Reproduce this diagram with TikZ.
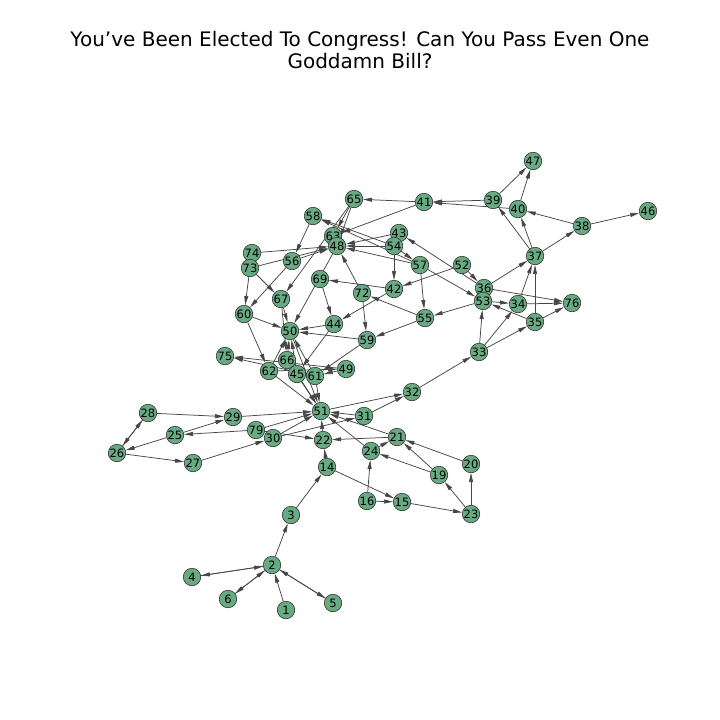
\documentclass[tikz,border=0pt]{standalone}
\usepackage{fontspec}
\setmainfont{DejaVu Sans}
\usetikzlibrary{arrows.meta}
\pgfdeclarelayer{bg}
\pgfsetlayers{bg,main}
\definecolor{nodegreen}{RGB}{104,170,130}
\definecolor{edgegray}{RGB}{70,70,70}
\tikzset{
  vtx/.style={circle,draw=black!80,line width=0.6pt,fill=nodegreen,minimum size=17.5pt,inner sep=0pt,font=\fontsize{11.5}{12}\selectfont},
  edg/.style={draw=edgegray,line width=0.75pt,-{Triangle[length=9pt,width=4pt]}},
  ttl/.style={font=\fontsize{20}{21.5}\selectfont,align=center}
}
\begin{document}
\begin{tikzpicture}[x=1pt,y=-1pt]
\useasboundingbox (0,0) rectangle (720,720);
\node[ttl] (title) at (360,50) {You’ve Been Elected To Congress! Can You Pass Even One\\Goddamn Bill?};
\foreach \n/\x/\y in {
47/533/161, 46/648/211, 39/493/200, 40/518/209, 41/424/202, 65/354/199,
38/582/226, 58/313/216, 63/333/236, 48/337/246, 43/399/233, 54/394/246,
74/252/253, 73/250/268, 56/292/261, 37/535/256, 57/420/265, 52/462/265,
69/320/279, 72/362/293, 42/394/289, 36/484/288, 53/483/301, 67/281/299,
34/518/304, 76/572/303, 60/244/314, 35/535/322, 55/425/318, 44/334/324,
50/290/331, 59/367/340, 33/479/352, 75/225/356, 66/287/360, 49/346/369,
62/269/371, 45/297/374, 61/315/376, 32/412/392, 28/148/413, 51/321/411,
29/233/417, 31/364/416, 79/256/430, 25/175/435, 30/273/438, 22/323/440,
21/397/437, 24/371/451, 26/117/453, 27/193/463, 14/327/467, 20/471/464,
19/439/475, 16/367/501, 15/402/502, 23/471/514, 3/291/515, 2/272/565,
4/192/577, 6/228/599, 5/333/603, 1/286/610}
  \node[vtx] (n\n) at (\x,\y) {\n};
\begin{pgfonlayer}{bg}
\foreach \a/\b in {
1/2, 2/3, 2/4, 4/2, 2/6, 6/2, 2/5, 5/2, 3/14, 14/15, 14/22, 16/15, 16/24,
15/23, 23/20, 23/19, 19/21, 19/24, 20/21, 21/22, 24/21, 24/51, 21/51, 22/51,
31/51, 31/32, 51/32, 32/33, 33/34, 33/35, 33/53, 35/53, 34/37, 34/76, 35/37,
35/76, 36/37, 36/76, 52/36, 36/43, 57/53, 54/57, 52/42, 53/55, 54/42, 57/55,
42/69, 42/44, 72/48, 72/59, 55/72, 69/44, 65/67, 73/67, 56/60, 73/60, 60/50,
60/62, 67/66, 67/50, 44/50, 59/50, 55/59, 59/61, 44/45, 66/50, 45/50, 61/50,
62/50, 49/75, 61/75, 62/49, 49/61, 62/51, 45/51, 61/51, 66/51, 50/51, 29/51,
79/51, 30/51, 28/29, 26/28, 28/26, 25/26, 25/29, 79/25, 79/22, 27/30, 26/27,
30/31, 65/63, 65/48, 58/56, 54/58, 57/58, 41/63, 41/65, 39/41, 40/41, 43/48,
54/48, 57/48, 74/48, 56/48, 73/48, 48/50, 37/38, 37/39, 37/40, 38/40, 38/46,
39/47, 40/47, 53/34}
  \draw[edg] (n\a) -- (n\b);
\end{pgfonlayer}
\end{tikzpicture}
\end{document}
